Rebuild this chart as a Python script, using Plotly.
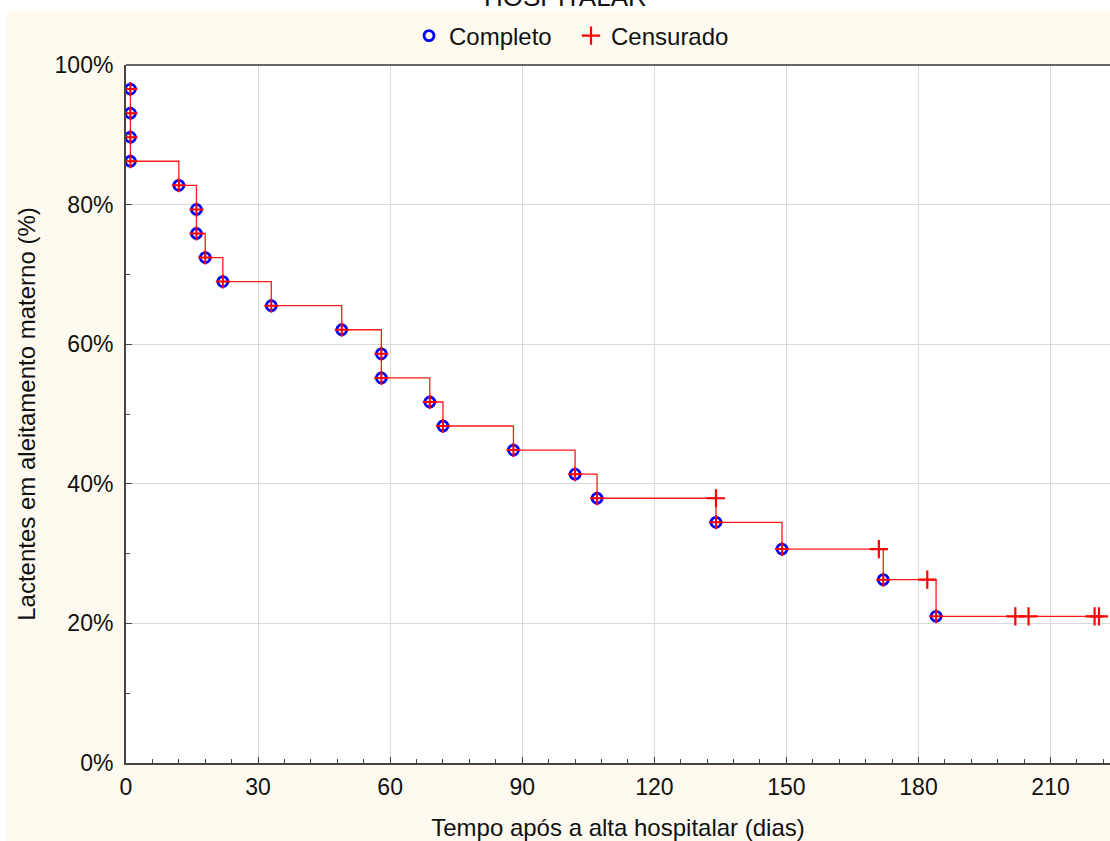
import plotly.graph_objects as go

# Kaplan-Meier step (event times in days, survival %)
event_days = [1, 1, 1, 1, 12, 16, 16, 18, 22, 33, 49, 58, 58, 69, 72, 88, 102, 107, 134, 149, 172, 184]
event_surv = [96.55, 93.10, 89.66, 86.21, 82.76, 79.31, 75.86, 72.41, 68.97, 65.52, 62.07, 58.62,
              55.17, 51.72, 48.28, 44.83, 41.38, 37.93, 34.48, 30.65, 26.27, 21.02]
# censored observations
cens_days = [134, 171, 182, 202, 205, 220, 221]
cens_surv = [37.93, 30.65, 26.27, 21.02, 21.02, 21.02, 21.02]
end_day = 221

x_ticks = [0, 30, 60, 90, 120, 150, 180, 210]
y_ticks = [0, 20, 40, 60, 80, 100]
y_labels = [f"{v}%" for v in y_ticks]

FONT = "Liberation Sans, Arial, sans-serif"
CREAM = "#fefaf0"

W, H = 1110, 841
L, R, T, B = 126, 0, 65, 78
PW, PH = W - L - R, H - T - B


def px_x(p):
    return (p - L) / PW


def px_y(p):
    return (H - B - p) / PH


step_x = event_days + [end_day]
step_y = event_surv + [event_surv[-1]]

fig = go.Figure()
fig.add_trace(go.Scatter(x=step_x, y=step_y, mode="lines", line=dict(color="#ff1a1a", width=1.3, shape="hv"),
                         showlegend=False, hoverinfo="skip"))
fig.add_trace(go.Scatter(x=event_days, y=event_surv, mode="markers", name="Completo",
                         marker=dict(symbol="circle-open", size=10, color="#0000ff", line=dict(width=2.8))))
fig.add_trace(go.Scatter(x=event_days, y=event_surv, mode="markers", showlegend=False,
                         marker=dict(symbol="cross-thin-open", size=10, color="#ff0000",
                                     line=dict(width=2, color="#ff0000"))))
fig.add_trace(go.Scatter(x=cens_days, y=cens_surv, mode="markers", name="Censurado",
                         marker=dict(symbol="cross-thin-open", size=13, color="#ff0000",
                                     line=dict(width=2.2, color="#ff0000"))))

fig.update_layout(
    width=W, height=H,
    paper_bgcolor=CREAM, plot_bgcolor="white",
    margin=dict(l=L, r=R, t=T, b=B, pad=0),
    font=dict(family=FONT, size=23, color="#111111"),
    showlegend=True,
    legend=dict(orientation="h", x=px_x(571), xanchor="center", y=px_y(36), yanchor="middle",
                bgcolor="rgba(0,0,0,0)", font=dict(size=24), tracegroupgap=0,
                entrywidth=117, entrywidthmode="pixels"),
    annotations=[dict(text="HOSPITALAR", x=px_x(565), xref="paper", y=px_y(-3), yref="paper",
                      xanchor="center", yanchor="middle", showarrow=False,
                      font=dict(size=26, color="#111111"))],
    shapes=[
        dict(type="rect", xref="paper", yref="paper", x0=px_x(-5), x1=px_x(W + 5), y0=px_y(11), y1=px_y(-20),
             fillcolor="white", line=dict(width=0), layer="below"),
        dict(type="rect", xref="paper", yref="paper", x0=px_x(-5), x1=px_x(7), y0=px_y(H + 20), y1=px_y(-20),
             fillcolor="white", line=dict(width=0), layer="below"),
        dict(type="line", xref="paper", yref="paper", x0=0, x1=1, y0=1, y1=1,
             line=dict(color="#333333", width=1.5)),
    ],
)

fig.update_xaxes(range=[0, 223.5], tickvals=x_ticks, showgrid=True, gridcolor="#dadada", gridwidth=1,
                 showline=True, linecolor="#444444", linewidth=2, ticks="inside", ticklen=6,
                 tickcolor="#444444", zeroline=False, ticklabelstandoff=2,
                 minor=dict(dtick=6, tick0=0, ticks="inside", ticklen=4, tickcolor="#444444", showgrid=False),
                 title=dict(text="Tempo após a alta hospitalar (dias)", standoff=21, font=dict(size=24)))
fig.update_yaxes(range=[0, 100], tickvals=y_ticks, ticktext=y_labels, showgrid=True, gridcolor="#dadada",
                 gridwidth=1, showline=True, linecolor="#444444", linewidth=2, ticks="inside", ticklen=6,
                 tickcolor="#444444", zeroline=False, ticklabelstandoff=6,
                 minor=dict(dtick=10, tick0=0, ticks="inside", ticklen=4, tickcolor="#444444", showgrid=False),
                 title=dict(text="Lactentes em aleitamento materno (%)", standoff=12, font=dict(size=24)))

fig.write_html("out.html", config={"displayModeBar": False},
               post_script="document.body.style.margin='0px';")
